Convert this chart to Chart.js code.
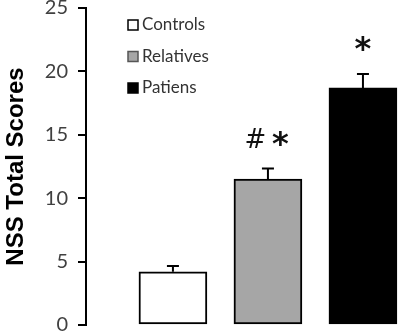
<!DOCTYPE html>
<html>
<head>
<meta charset="utf-8">
<script src="https://cdn.jsdelivr.net/npm/chart.js@4/dist/chart.umd.min.js"></script>
<style>
  html, body { margin: 0; padding: 0; background: #fff; }
  #wrap { width: 400px; height: 336px; }
</style>
</head>
<body>
<div id="wrap"><canvas id="chart"></canvas></div>
<script>
// values
const groups = ['Controls', 'Relatives', 'Patiens'];
const means = [4.2, 11.5, 18.7];
const sems = [0.45, 0.85, 1.1];
const marks = [[], ['#', '*'], ['*']];
const yTicks = [0, 5, 10, 15, 20, 25];

const fills = ['#ffffff', '#a6a6a6', '#000000'];

// draw one glyph with its ink box centred on (x, y)
function glyph(ctx, ch, x, y) {
    ctx.font = ch === '*' ? 'bold 32px "DejaVu Sans"' : '26px "DejaVu Sans"';
    const m = ctx.measureText(ch);
    const h = m.actualBoundingBoxAscent + m.actualBoundingBoxDescent;
    ctx.textAlign = 'center';
    ctx.textBaseline = 'alphabetic';
    ctx.fillText(ch, x, y + m.actualBoundingBoxAscent - h / 2);
}

// error bars, significance marks and the legend box
const extras = {
    id: 'extras',
    afterDatasetsDraw(chart) {
        const ctx = chart.ctx;
        const y = chart.scales.y;
        const bars = chart.getDatasetMeta(0).data;
        ctx.save();
        ctx.strokeStyle = '#000';
        ctx.lineWidth = 2;
        bars.forEach((bar, i) => {
            const top = y.getPixelForValue(means[i] + sems[i]);
            ctx.beginPath();
            ctx.moveTo(bar.x, bar.y);
            ctx.lineTo(bar.x, top);
            ctx.moveTo(bar.x - 6, top);
            ctx.lineTo(bar.x + 6, top);
            ctx.stroke();
            ctx.fillStyle = '#111';
            const n = marks[i].length;
            marks[i].forEach((ch, k) => {
                glyph(ctx, ch, bar.x + (k - (n - 1) / 2) * 25, top - 30);
            });
        });

        // legend
        const lx = chart.chartArea.left + 42;
        ctx.font = '17px Lato';
        ctx.textBaseline = 'middle';
        ctx.textAlign = 'left';
        groups.forEach((g, i) => {
            const cy = 25 + i * 31.5;
            ctx.fillStyle = fills[i];
            ctx.fillRect(lx, cy - 5, 10, 10);
            ctx.lineWidth = 1.5;
            ctx.strokeStyle = i === 1 ? '#555' : '#000';
            ctx.strokeRect(lx, cy - 5, 10, 10);
            ctx.fillStyle = '#333';
            ctx.fillText(g, lx + 14, cy);
        });
        ctx.restore();
    }
};

new Chart(document.getElementById('chart'), {
    type: 'bar',
    data: {
        datasets: [{
            label: 'NSS',
            data: means.map((v, i) => ({ x: i + 1, y: v })),
            backgroundColor: fills,
            borderColor: '#000',
            borderWidth: 2,
            borderSkipped: false,
            barThickness: 68
        }]
    },
    options: {
        responsive: true,
        maintainAspectRatio: false,
        animation: false,
        layout: { padding: { top: 8, bottom: 11, left: 0, right: 0 } },
        plugins: {
            legend: { display: false },
            tooltip: { enabled: false }
        },
        scales: {
            x: {
                type: 'linear',
                display: false,
                offset: false,
                min: 0.085,
                max: 3.39
            },
            y: {
                min: 0,
                max: 25,
                afterBuildTicks(scale) {
                    scale.ticks = yTicks.map(v => ({ value: v }));
                },
                afterFit(scale) {
                    scale.width = 86;
                    scale.paddingTop = 0;
                    scale.paddingBottom = 0;
                },
                border: { display: true, color: '#000', width: 2 },
                grid: {
                    drawOnChartArea: false,
                    drawTicks: true,
                    tickLength: 8,
                    color: '#000',
                    lineWidth: 2
                },
                ticks: {
                    color: '#404040',
                    padding: 10,
                    font: { family: 'Lato', size: 20 }
                },
                title: {
                    display: true,
                    text: 'NSS Total Scores',
                    color: '#000',
                    padding: { top: 2, bottom: 0 },
                    font: { family: '"Liberation Sans"', size: 24, weight: 'bold' }
                }
            }
        }
    },
    plugins: [extras]
});
</script>
</body>
</html>
